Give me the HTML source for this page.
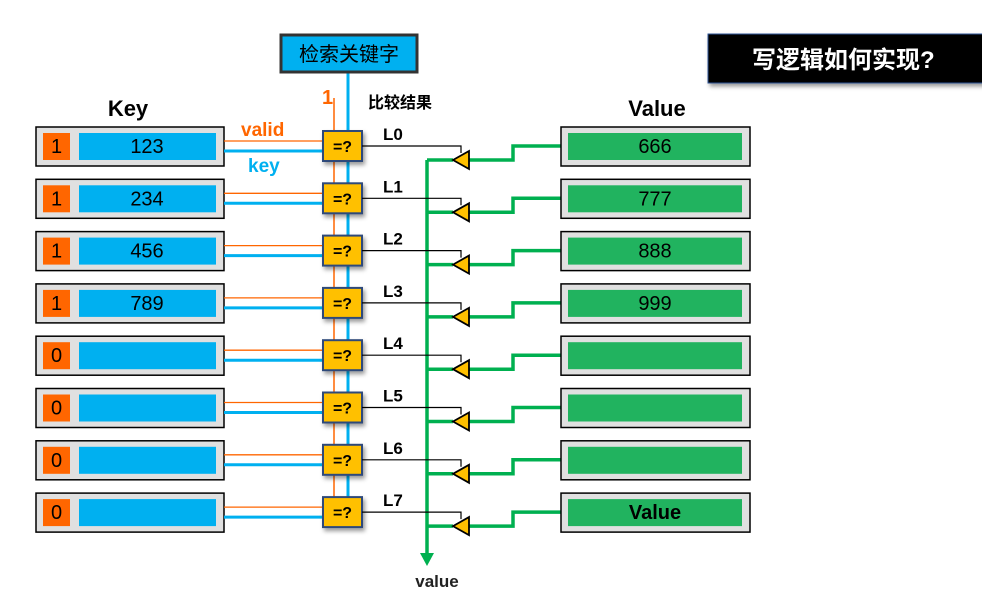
<!DOCTYPE html>
<html><head><meta charset="utf-8"><style>
body{margin:0;background:#fff;}
svg{display:block;font-family:"Liberation Sans","Noto Sans CJK SC",sans-serif;}
</style></head><body>
<svg width="982" height="597" viewBox="0 0 982 597" xmlns="http://www.w3.org/2000/svg">
<defs>
<filter id="sh" x="-20%" y="-20%" width="150%" height="160%"><feDropShadow dx="2" dy="3" stdDeviation="2" flood-color="#000" flood-opacity="0.4"/></filter>
</defs>
<!-- title banner -->
<rect x="708" y="34" width="280" height="49" fill="#000" stroke="#2f5597" stroke-width="1" filter="url(#sh)"/>
<text x="752" y="68" fill="#fff" font-size="24" font-weight="bold">写逻辑如何实现?</text>
<!-- header -->
<line x1="348" y1="72" x2="348" y2="525" stroke="#00b0f0" stroke-width="3"/>
<line x1="334" y1="98" x2="334" y2="525" stroke="#ff6600" stroke-width="1.5"/>
<rect x="281" y="35" width="136" height="37" fill="#00b0f0" stroke="#333" stroke-width="3"/>
<text x="349" y="61" text-anchor="middle" font-size="20">检索关键字</text>
<text x="322" y="104" fill="#ff6600" font-size="20" font-weight="bold">1</text>
<text x="368" y="108" font-size="16" font-weight="bold">比较结果</text>
<text x="128" y="116" text-anchor="middle" font-size="22" font-weight="bold">Key</text>
<text x="657" y="116" text-anchor="middle" font-size="22" font-weight="bold">Value</text>
<text x="241" y="136" fill="#ff6600" font-size="19" font-weight="bold">valid</text>
<text x="248" y="172" fill="#00b0f0" font-size="19" font-weight="bold">key</text>
<!-- green bus -->
<line x1="427" y1="160" x2="427" y2="555" stroke="#00b050" stroke-width="3.5"/>
<polygon points="420,553 434,553 427,566" fill="#00b050"/>
<text x="437" y="587" text-anchor="middle" font-size="17" font-weight="bold" fill="#222">value</text>
<g id="rows">
</g>
</svg>
<script>
var g=document.getElementById('rows');
var keys=['123','234','456','789','','','',''];
var vals=['666','777','888','999','','','','Value'];
var valid=['1','1','1','1','0','0','0','0'];
var s='';
for(var i=0;i<8;i++){
 var c=146+i*52.3;
 var bt=c-19;
 s+='<rect x="36" y="'+bt+'" width="188" height="39" fill="#e0e0e0" stroke="#000" stroke-width="1.5"/>';
 s+='<rect x="43" y="'+(bt+6)+'" width="27" height="27" fill="#ff6600"/>';
 s+='<text x="56.5" y="'+(c+7)+'" text-anchor="middle" font-size="20">'+valid[i]+'</text>';
 s+='<rect x="79" y="'+(bt+6)+'" width="137" height="27" fill="#00b0f0"/>';
 s+='<text x="147" y="'+(c+7)+'" text-anchor="middle" font-size="20">'+keys[i]+'</text>';
 s+='<line x1="224" y1="'+(c-5)+'" x2="323" y2="'+(c-5)+'" stroke="#ff6600" stroke-width="1.3"/>';
 s+='<line x1="224" y1="'+(c+5)+'" x2="323" y2="'+(c+5)+'" stroke="#00b0f0" stroke-width="3"/>';
 s+='<rect x="323" y="'+(c-15)+'" width="39" height="30" fill="#ffc000" stroke="#2f4a7a" stroke-width="2" filter="url(#sh)"/>';
 s+='<text x="342.5" y="'+(c+6)+'" text-anchor="middle" font-size="16" font-weight="bold">=?</text>';
 s+='<text x="383" y="'+(c-6)+'" font-size="17" font-weight="bold">L'+i+'</text>';
 s+='<polyline points="362,'+c+' 461,'+c+' 461,'+(c+7)+'" fill="none" stroke="#000" stroke-width="1.2"/>';
 s+='<line x1="427" y1="'+(c+14)+'" x2="453" y2="'+(c+14)+'" stroke="#00b050" stroke-width="3.5"/>';
 s+='<polyline points="469,'+(c+14)+' 513,'+(c+14)+' 513,'+c+' 561,'+c+'" fill="none" stroke="#00b050" stroke-width="3.5"/>';
 s+='<polygon points="453,'+(c+14)+' 469,'+(c+5)+' 469,'+(c+23)+'" fill="#ffc000" stroke="#000" stroke-width="1.8"/>';
 s+='<rect x="561" y="'+bt+'" width="189" height="39" fill="#e0e0e0" stroke="#000" stroke-width="1.5"/>';
 s+='<rect x="568" y="'+(bt+6)+'" width="174" height="27" fill="#21b35f"/>';
 s+='<text x="655" y="'+(c+7)+'" text-anchor="middle" font-size="20"'+(i==7?' font-weight="bold"':'')+'>'+vals[i]+'</text>';
}
g.innerHTML=s;
</script>
</body></html>
